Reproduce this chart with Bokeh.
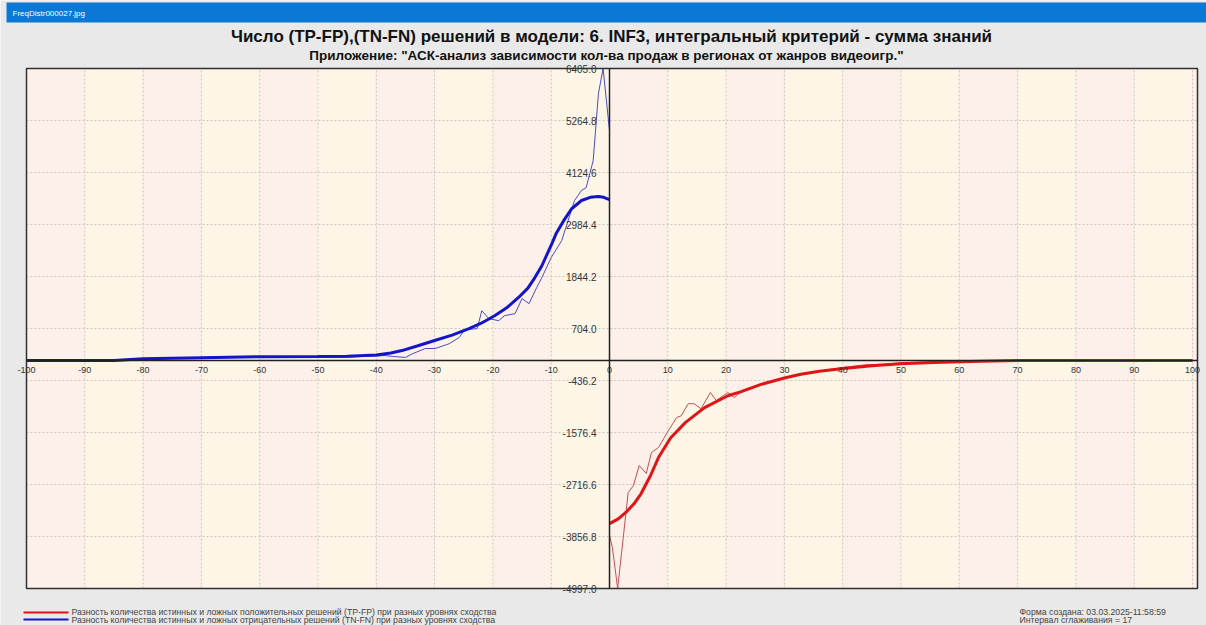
from bokeh.plotting import figure
from bokeh.models import Range1d, LinearAxis, FixedTicker, NumeralTickFormatter, Label
from bokeh.embed import file_html
from bokeh.resources import INLINE

# ---------------- data ----------------
x_ticks = [-100, -90, -80, -70, -60, -50, -40, -30, -20, -10, 0, 10, 20, 30, 40, 50, 60, 70, 80, 90, 100]
y_ticks = [6405.0, 5264.8, 4124.6, 2984.4, 1844.2, 704.0, -436.2, -1576.4, -2716.6, -3856.8, -4997.0]

# TN-FN raw (thin blue), levels -100..0
tn_x = [-100, -90, -86, -84, -82, -80, -78, -76, -74, -72, -70, -68, -66, -64, -62, -60, -58, -56,
        -54, -52, -50, -48, -46, -44, -42, -40, -38.5, -37, -35, -33.8, -31.6, -29.9, -27.5, -25.8,
        -24.8, -22.7, -21.9, -20.7, -19, -18, -16.2, -15, -13.8, -12.5, -11.6, -10, -8.2, -6, -4.8,
        -4, -2.8, -1.9, -1.1, 0]
tn_raw = [0, 0, 5, 15, 20, 35, 40, 45, 55, 60, 70, 75, 80, 90, 85, 80, 70, 75, 90, 80, 85, 75, 70,
          80, 95, 100, 110, 90, 70, 150, 265, 265, 370, 505, 680, 700, 1095, 920, 875, 985, 1030,
          1360, 1250, 1600, 1820, 2260, 2630, 3510, 3730, 3795, 4385, 5855, 6405, 5045]
# TN-FN smoothed (thick blue)
tns_x = [-100, -85, -80, -70, -60, -50, -45, -40, -37.5, -35.6, -33, -30, -27, -24.1, -22, -19.7,
         -17.5, -15.6, -14, -12.8, -11.6, -9.9, -9.1, -7.8, -6.5, -4.8, -3.3, -1.9, -1, 0]
tn_smooth = [0, 0, 40, 65, 85, 90, 95, 125, 165, 220, 320, 440, 560, 700, 820, 985, 1170, 1385,
             1590, 1820, 2080, 2560, 2800, 3080, 3330, 3510, 3580, 3600, 3580, 3530]

# TP-FP raw (thin red), levels 0..100
tp_x = [0, 0.5, 1.4, 3.2, 4.1, 5.1, 6.3, 7.2, 8.4, 10.1, 11.5, 12.3, 13.5, 14.5, 15.7, 17.3, 18.3,
        20.3, 21.4, 23, 25, 27, 30, 32, 35, 38, 40, 42, 44, 47, 50, 55, 60, 65, 70, 80, 90, 100]
tp_raw = [-3840, -4100, -4997, -2895, -2740, -2300, -2475, -2015, -1905, -1535, -1250, -1210, -945,
          -945, -1055, -700, -875, -700, -810, -640, -560, -470, -380, -330, -260, -190, -150, -120,
          -90, -80, -50, -30, -15, -5, 0, 0, 0, 0]
# TP-FP smoothed (thick red)
tps_x = [0, 1.5, 2.8, 4.2, 5.4, 7, 8.4, 10.5, 13, 16.3, 20.3, 22.6, 26, 30, 32.8, 36, 39.7, 45,
         49.9, 55.6, 63.6, 70, 100]
tp_smooth = [-3575, -3470, -3330, -3140, -2920, -2530, -2125, -1690, -1360, -1030, -770, -680,
             -520, -380, -300, -235, -180, -115, -70, -40, -15, 0, 0]

title = "Число (TP-FP),(TN-FN) решений в модели: 6. INF3, интегральный критерий - сумма знаний"
subtitle = 'Приложение: "АСК-анализ зависимости кол-ва продаж в регионах от жанров видеоигр."'
legend_tp = "Разность количества истинных и ложных положительных решений (TP-FP) при разных уровнях сходства"
legend_tn = "Разность количества истинных и ложных отрицательных решений (TN-FN) при разных уровнях сходства"
info1 = "Форма создана: 03.03.2025-11:58:59"
info2 = "Интервал сглаживания = 17"
window_name = "FreqDistr000027.jpg"

# ---------------- layout helpers (pixel -> data, for the page furniture) ----------------
W, H = 1206, 625
PX_L, PX_100, PX_R = 26, 1192, 1197     # pixel of x=-100, x=+100, right border
PY_T, PY_B = 68, 588                     # pixel of top tick / bottom tick
XMIN, XMAX = x_ticks[0], x_ticks[-1]
YMAX, YMIN = y_ticks[0], y_ticks[-1]
kx = (XMAX - XMIN) / (PX_100 - PX_L)
ky = (YMAX - YMIN) / (PY_B - PY_T)


def fx(px):
    return XMIN + (px - PX_L) * kx


def fy(py):
    return YMAX - (py - PY_T) * ky


FONT = "Arial, 'Liberation Sans', sans-serif"

p = figure(width=W, height=H, output_backend="svg", toolbar_location=None,
           x_range=Range1d(fx(0), fx(W)), y_range=Range1d(fy(H), fy(0)),
           x_axis_location=None, y_axis_location=None,
           min_border=0, min_border_left=0, min_border_right=0, min_border_top=0, min_border_bottom=0)
p.xgrid.visible = False
p.ygrid.visible = False
p.outline_line_color = None
p.border_fill_color = "#e9e9e9"
p.background_fill_color = "#e9e9e9"

# window title bar
p.quad(left=fx(6), right=fx(W), bottom=fy(22), top=fy(2), fill_color="#0a78d4", line_color=None)
p.add_layout(Label(x=fx(12), y=fy(13), text=window_name, text_font=FONT, text_font_size="8px",
                   text_color="white", text_baseline="middle"))

# alternating vertical bands
band_left = x_ticks[:-1] + [XMAX]
band_right = x_ticks[1:] + [fx(PX_R)]
band_col = ["#fdf0e8" if ((l - XMIN) // 10) % 2 == 0 else "#fdf6e6" for l in x_ticks[:-1]] + ["#fdf0e8"]
p.quad(left=band_left, right=band_right, bottom=YMIN, top=YMAX, fill_color=band_col, line_color=None)

# dotted grid
p.segment(x0=x_ticks, y0=YMIN, x1=x_ticks, y1=YMAX, line_color="#cfc7c0", line_dash="2 2", line_width=1)
p.segment(x0=XMIN, y0=y_ticks, x1=fx(PX_R), y1=y_ticks, line_color="#cfc7c0", line_dash="2 2", line_width=1)

# curves
p.line(tn_x, tn_raw, line_color="#4a4ac4", line_width=1)
p.line(tns_x, tn_smooth, line_color="#1414c8", line_width=3)
p.line(tp_x, tp_raw, line_color="#c45050", line_width=1)
p.line(tps_x, tp_smooth, line_color="#e01414", line_width=3)

# plot border
p.quad(left=XMIN, right=fx(PX_R), bottom=YMIN, top=YMAX, fill_color=None, line_color="#303030", line_width=1.5)

# axes through the origin
xa = LinearAxis(fixed_location=0, ticker=FixedTicker(ticks=x_ticks),
                formatter=NumeralTickFormatter(format="0"), bounds=(XMIN, fx(PX_R)))
ya = LinearAxis(fixed_location=0, ticker=FixedTicker(ticks=y_ticks),
                formatter=NumeralTickFormatter(format="0.0"), bounds=(YMIN, YMAX))
for ax in (xa, ya):
    ax.axis_line_color = "#202020"
    ax.axis_line_width = 1.5
    ax.major_tick_out = 0
    ax.major_tick_in = 0
    ax.minor_tick_out = 0
    ax.minor_tick_in = 0
    ax.major_label_text_font = FONT
    ax.major_label_text_color = "#333333"
xa.major_label_standoff = 6
xa.major_label_text_font_size = "9px"
ya.major_label_standoff = 13
ya.major_label_text_font_size = "10px"
p.add_layout(xa, "below")
p.add_layout(ya, "left")

# titles
p.add_layout(Label(x=fx(611), y=fy(36), text=title, text_font=FONT, text_font_size="17px",
                   text_font_style="bold", text_color="#111111", text_align="center", text_baseline="middle"))
p.add_layout(Label(x=fx(606), y=fy(55), text=subtitle, text_font=FONT, text_font_size="13.5px",
                   text_font_style="bold", text_color="#111111", text_align="center", text_baseline="middle"))

# legend
p.segment(x0=fx(23), y0=fy(612), x1=fx(68), y1=fy(612), line_color="#e01414", line_width=2)
p.segment(x0=fx(23), y0=fy(619), x1=fx(68), y1=fy(619), line_color="#1414c8", line_width=2)
p.add_layout(Label(x=fx(71), y=fy(611.5), text=legend_tp, text_font=FONT, text_font_size="8.7px",
                   text_color="#444444", text_baseline="middle"))
p.add_layout(Label(x=fx(71), y=fy(619), text=legend_tn, text_font=FONT, text_font_size="8.7px",
                   text_color="#444444", text_baseline="middle"))
p.add_layout(Label(x=fx(1019), y=fy(611.5), text=info1, text_font=FONT, text_font_size="8.7px",
                   text_color="#444444", text_baseline="middle"))
p.add_layout(Label(x=fx(1019), y=fy(619), text=info2, text_font=FONT, text_font_size="8.7px",
                   text_color="#444444", text_baseline="middle"))

open("out.html", "w").write(file_html(p, INLINE))
